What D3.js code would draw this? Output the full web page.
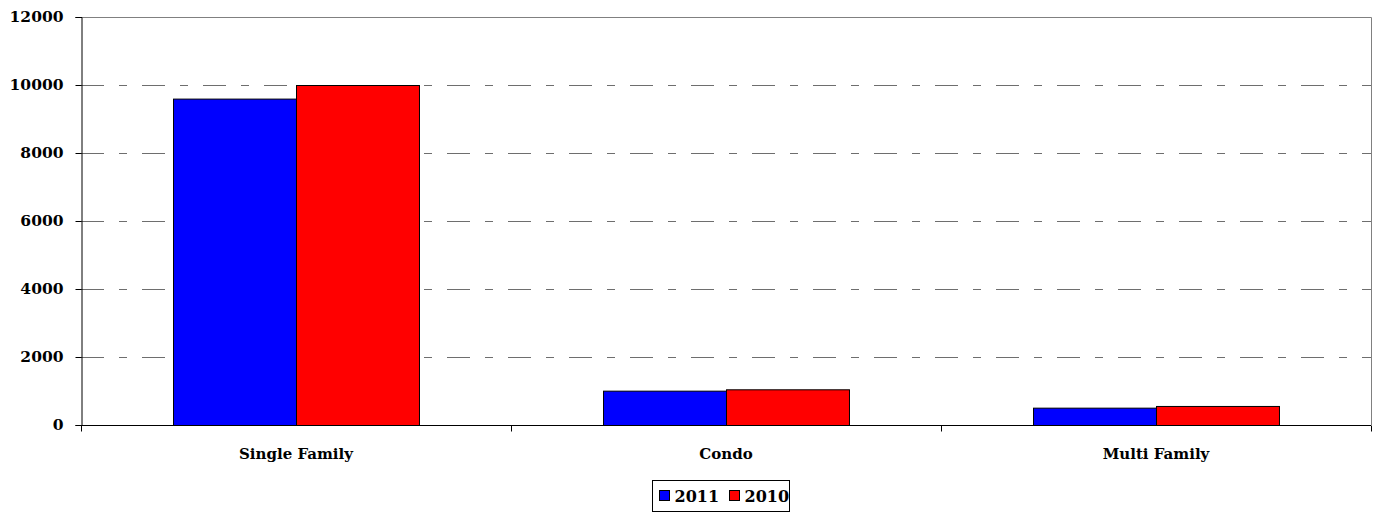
<!DOCTYPE html>
<html>
<head>
<meta charset="utf-8">
<script src="https://cdn.jsdelivr.net/npm/d3@7"></script>
<style>
  html, body { margin: 0; padding: 0; background: #fff; }
  svg { display: block; }
  text { font-family: "DejaVu Serif", serif; font-weight: bold; fill: #000; }
</style>
</head>
<body>
<svg id="chart" width="1377" height="513"></svg>
<script>
// Property sales by type, two years
const categories = ["Single Family", "Condo", "Multi Family"];
const seriesNames = ["2011", "2010"];
const values2011 = [9600, 1010, 510];
const values2010 = [10000, 1050, 560];
const seriesColors = ["#0000FF", "#FF0000"];
const yTicks = [0, 2000, 4000, 6000, 8000, 10000, 12000];

const svg = d3.select("#chart");
const margin = { left: 81, right: 6, top: 17, bottom: 88 };
const W = 1377, H = 513;
const plotW = W - margin.left - margin.right;
const plotH = H - margin.top - margin.bottom;

const g = svg.append("g").attr("transform", `translate(${margin.left},${margin.top})`);

const x = d3.scaleBand().domain(categories).range([0, plotW]).paddingInner(0.428).paddingOuter(0.214);
const xOuter = d3.scaleBand().domain(categories).range([0, plotW]);
const xInner = d3.scaleBand().domain(seriesNames).range([0, x.bandwidth()]);
const y = d3.scaleLinear().domain([0, 12000]).range([plotH, 0]);

// plot border (top and right)
g.append("path")
  .attr("d", `M0,0.5H${plotW + 0.5}V${plotH}`)
  .attr("fill", "none").attr("stroke", "#808080").attr("stroke-width", 1);

// dash-dot gridlines
g.append("g").selectAll("line")
  .data(yTicks.filter(t => t > 0 && t < 12000))
  .join("line")
  .attr("x1", 0).attr("x2", plotW)
  .attr("y1", d => Math.round(y(d)) + 0.5).attr("y2", d => Math.round(y(d)) + 0.5)
  .attr("stroke", "#6e6e6e").attr("stroke-width", 1)
  .attr("stroke-dasharray", "23,15,8,15");

// bars
const series = [values2011, values2010];
const bars = g.append("g");
categories.forEach((c, i) => {
  seriesNames.forEach((s, j) => {
    const v = series[j][i];
    bars.append("rect")
      .attr("x", x(c) + xInner(s) + 0.5)
      .attr("y", y(v) + 0.5)
      .attr("width", xInner.bandwidth())
      .attr("height", plotH - y(v))
      .attr("fill", seriesColors[j])
      .attr("stroke", "#000").attr("stroke-width", 1);
  });
});

// y axis
const yAxis = g.append("g").attr("transform", "translate(0.5,0)")
  .call(d3.axisLeft(y).tickValues(yTicks).tickSize(6).tickPadding(12).tickFormat(d3.format("d")));
yAxis.select(".domain").attr("stroke", "#000");
yAxis.selectAll(".tick line").attr("stroke", "#000");
yAxis.selectAll(".tick text").style("font-size", "15.5px").style("font-family", "DejaVu Serif").style("font-weight", "bold");

// x axis baseline and category separators
const xAxisG = g.append("g").attr("transform", `translate(0,${plotH + 0.5})`);
xAxisG.append("line").attr("x1", 0).attr("x2", plotW).attr("stroke", "#000");
const sepPositions = categories.map(c => xOuter(c)).concat([plotW]);
xAxisG.selectAll("line.sep").data(sepPositions).join("line").attr("class", "sep")
  .attr("x1", d => Math.round(d) + 0.5).attr("x2", d => Math.round(d) + 0.5)
  .attr("y1", 0).attr("y2", 6).attr("stroke", "#000");
xAxisG.selectAll("text.cat").data(categories).join("text").attr("class", "cat")
  .attr("x", d => xOuter(d) + xOuter.bandwidth() / 2)
  .attr("y", 33)
  .attr("text-anchor", "middle")
  .style("font-size", "15px")
  .text(d => d);

// legend
const legend = svg.append("g").attr("transform", "translate(652.5,480.5)");
legend.append("rect").attr("width", 137).attr("height", 31)
  .attr("fill", "#fff").attr("stroke", "#000").attr("stroke-width", 1);
const itemOffsets = [7, 77];
seriesNames.forEach((s, j) => {
  const it = legend.append("g").attr("transform", `translate(${itemOffsets[j]},0)`);
  it.append("rect").attr("x", 0).attr("y", 10).attr("width", 10).attr("height", 10)
    .attr("fill", seriesColors[j]).attr("stroke", "#000");
  it.append("text").attr("x", 15).attr("y", 21.5).style("font-size", "16px").text(s);
});
</script>
</body>
</html>
